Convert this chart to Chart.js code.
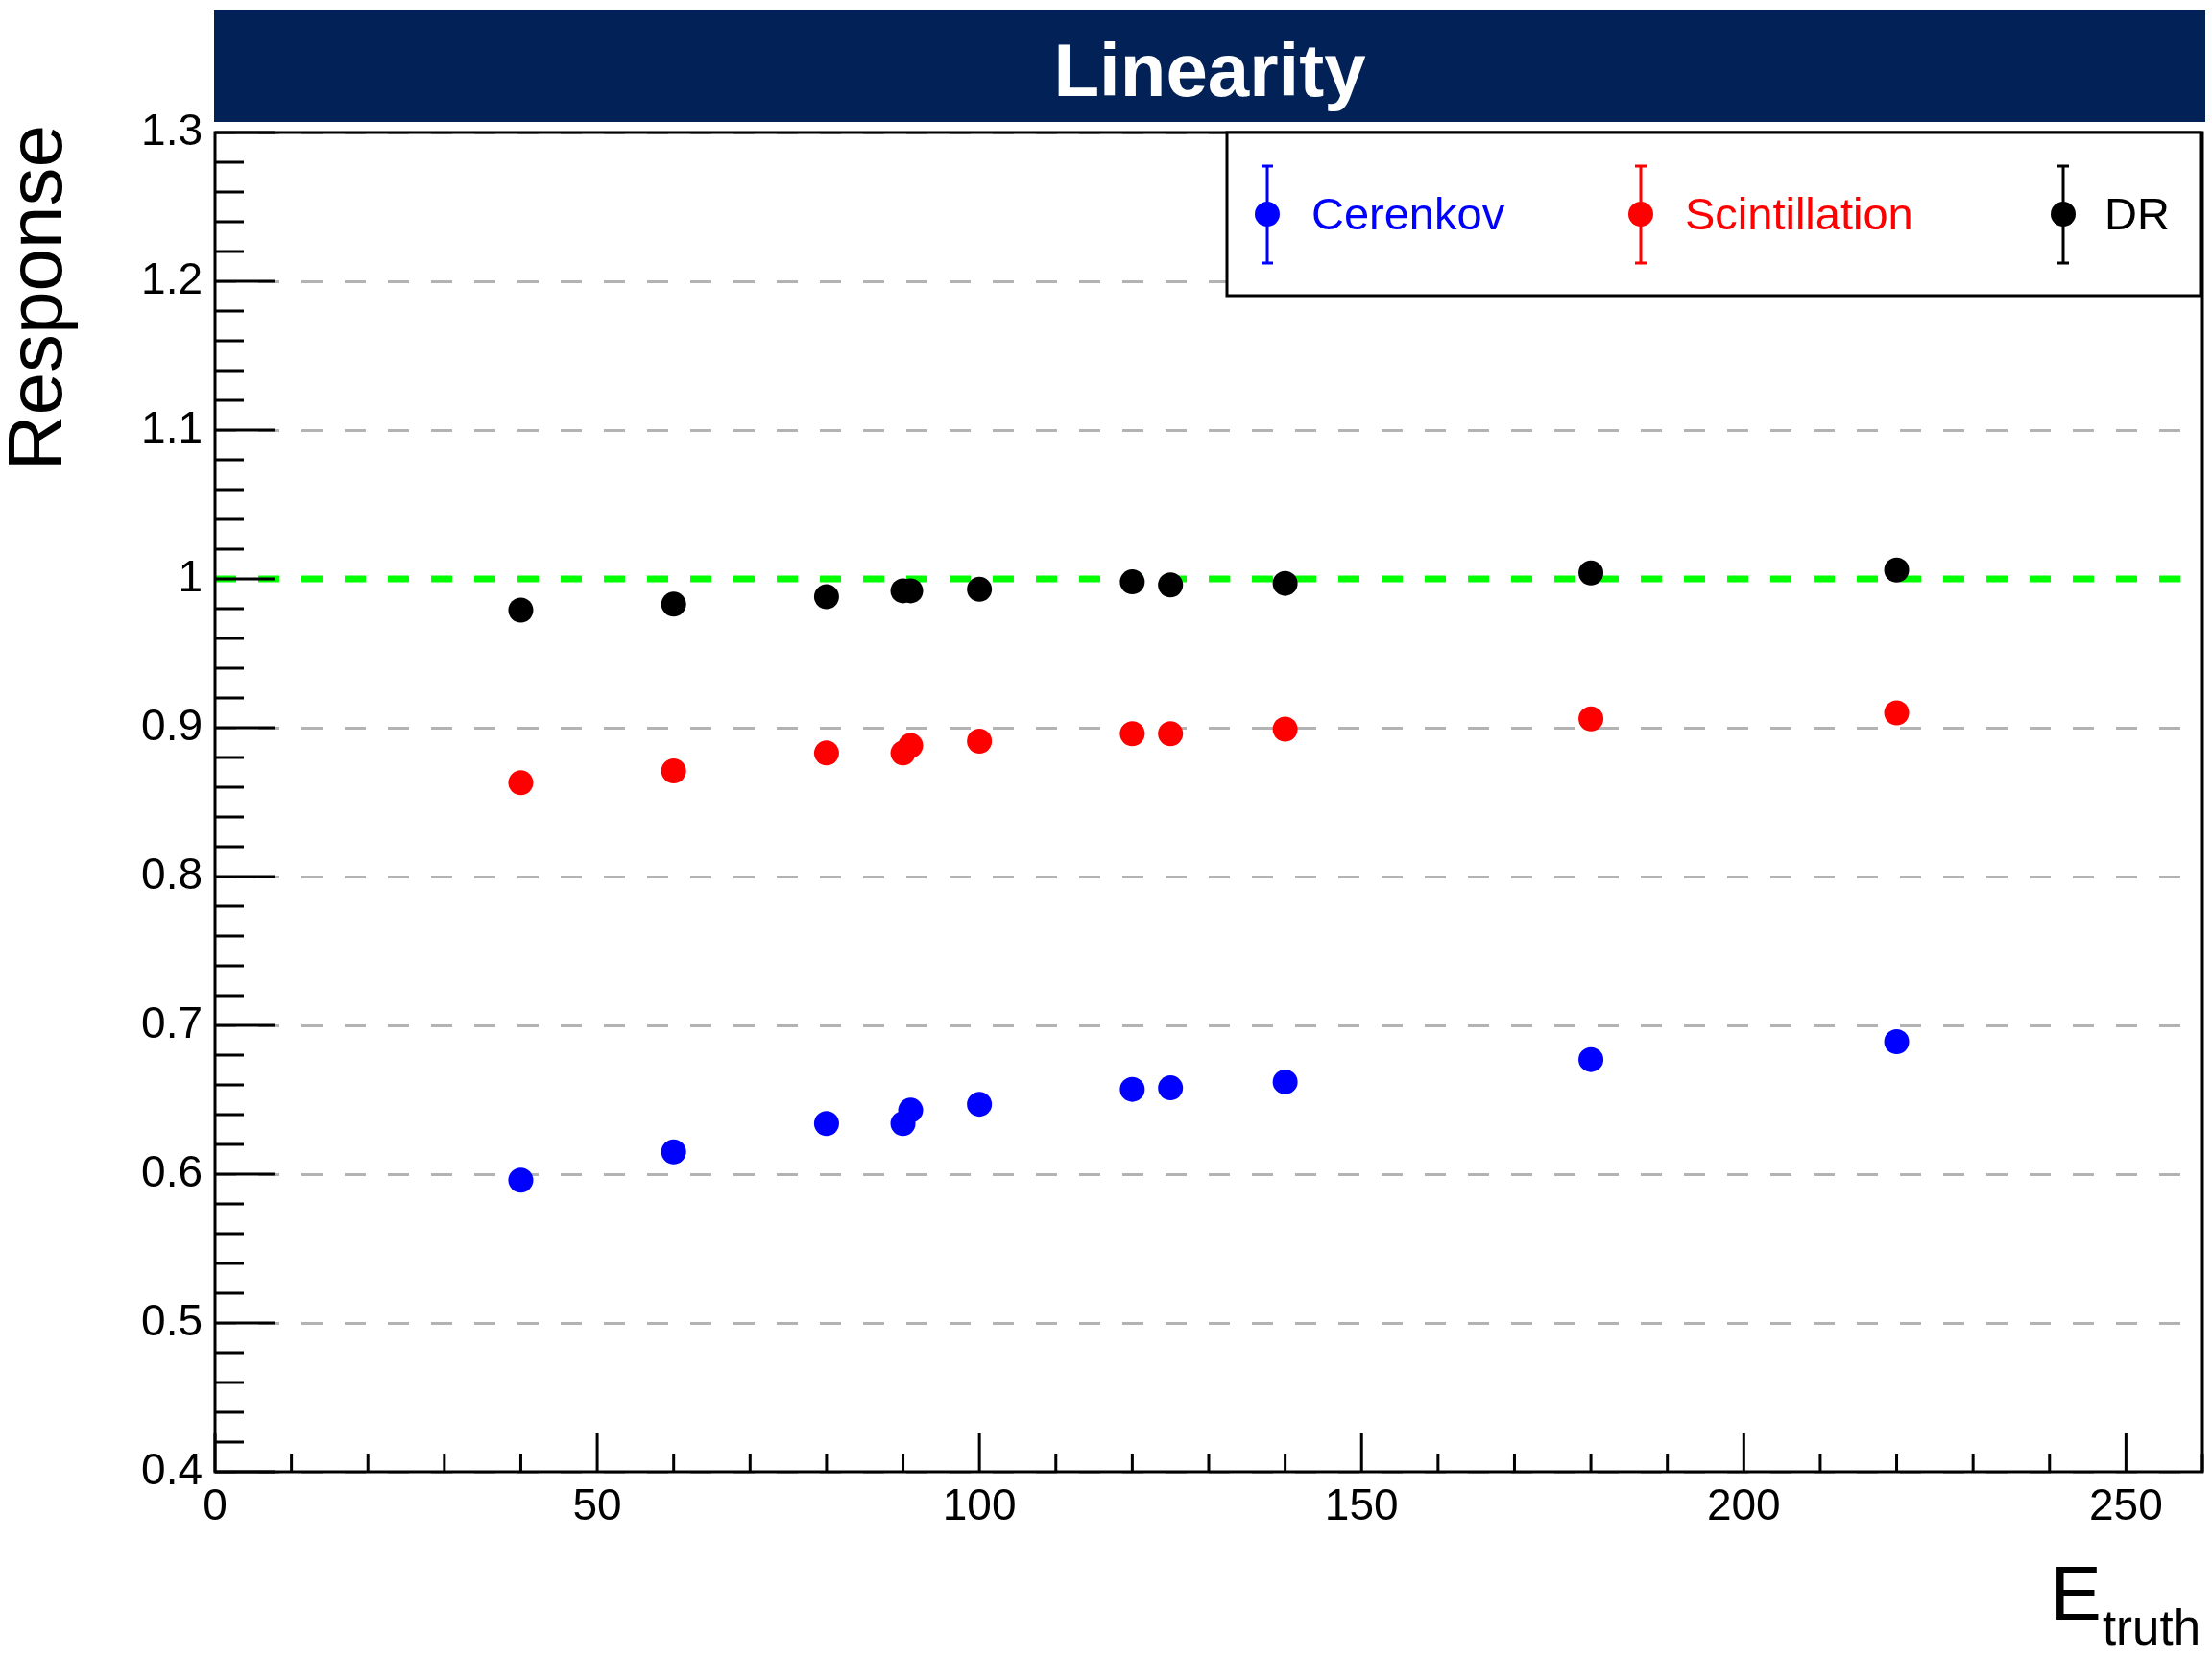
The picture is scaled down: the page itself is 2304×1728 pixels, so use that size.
<!DOCTYPE html>
<html>
<head>
<meta charset="utf-8">
<title>Linearity</title>
<script src="https://cdn.jsdelivr.net/npm/chart.js@4.4.1/dist/chart.umd.min.js"></script>
<style>
  html, body { margin: 0; padding: 0; background: #ffffff; }
  #wrap { width: 2304px; height: 1728px; }
</style>
</head>
<body>
<div id="wrap"><canvas id="linearity" width="2304" height="1728"></canvas></div>
<script>
// Beam energies (GeV) and measured response for each readout
const energies      = [40, 60, 80, 90, 91, 100, 120, 125, 140, 180, 220];
const cerenkov      = [0.596, 0.615, 0.634, 0.634, 0.643, 0.647, 0.657, 0.658, 0.662, 0.677, 0.689];
const scintillation = [0.863, 0.871, 0.883, 0.883, 0.888, 0.891, 0.896, 0.896, 0.899, 0.906, 0.910];
const dualReadout   = [0.979, 0.983, 0.988, 0.992, 0.992, 0.993, 0.998, 0.996, 0.997, 1.004, 1.006];

const seriesNames  = ['Cerenkov', 'Scintillation', 'DR'];
const seriesColors = ['#0000ff', '#ff0000', '#000000'];

const xTickLabels = ['0', '50', '100', '150', '200', '250'];
const yTickLabels = ['0.4', '0.5', '0.6', '0.7', '0.8', '0.9', '1', '1.1', '1.2', '1.3'];
const referenceResponse = 1;

const FONT = "'Liberation Sans', Arial, Helvetica, sans-serif";

function points(values) {
  return energies.map((e, i) => ({ x: e, y: values[i] }));
}

// Title banner across the top of the pad
const titleBanner = {
  id: 'titleBanner',
  beforeDraw(chart) {
    const ctx = chart.ctx;
    ctx.save();
    ctx.fillStyle = '#012157';
    ctx.fillRect(223, 10, 2074, 117);
    ctx.fillStyle = '#ffffff';
    ctx.font = 'bold 78px ' + FONT;
    ctx.textAlign = 'center';
    ctx.textBaseline = 'alphabetic';
    ctx.fillText('Linearity', 1260, 100);
    ctx.restore();
  }
};

// Dashed unit-response reference line
const referenceLine = {
  id: 'referenceLine',
  beforeDatasetsDraw(chart) {
    const { ctx, chartArea, scales } = chart;
    const y = scales.y.getPixelForValue(referenceResponse);
    ctx.save();
    ctx.strokeStyle = '#00ff00';
    ctx.lineWidth = 7;
    ctx.setLineDash([22, 23]);
    ctx.beginPath();
    ctx.moveTo(chartArea.left, y);
    ctx.lineTo(chartArea.right, y);
    ctx.stroke();
    ctx.restore();
  }
};

// Frame, inward major/minor ticks and axis titles
const frameAndTicks = {
  id: 'frameAndTicks',
  afterDraw(chart) {
    const { ctx, chartArea: a, scales } = chart;
    ctx.save();
    ctx.strokeStyle = '#000000';
    ctx.lineWidth = 3;
    ctx.setLineDash([]);

    // x ticks every 10, major every 50
    ctx.beginPath();
    for (let v = 0; v <= scales.x.max + 1e-9; v += 10) {
      const px = scales.x.getPixelForValue(v);
      const len = (v % 50 === 0) ? 40 : 19;
      ctx.moveTo(px, a.bottom);
      ctx.lineTo(px, a.bottom - len);
    }
    // y ticks every 0.02, major every 0.1
    for (let k = 0; k <= 45; k++) {
      const v = scales.y.min + k * 0.02;
      const py = scales.y.getPixelForValue(v);
      const len = (k % 5 === 0) ? 62 : 30;
      ctx.moveTo(a.left, py);
      ctx.lineTo(a.left + len, py);
    }
    ctx.stroke();

    ctx.strokeRect(a.left, a.top, a.right - a.left, a.bottom - a.top);

    // y-axis title
    ctx.fillStyle = '#000000';
    ctx.font = '80px ' + FONT;
    ctx.save();
    ctx.translate(64, 130);
    ctx.rotate(-Math.PI / 2);
    ctx.textAlign = 'right';
    ctx.textBaseline = 'alphabetic';
    ctx.fillText('Response', 0, 0);
    ctx.restore();

    // x-axis title E_truth
    ctx.textAlign = 'left';
    ctx.textBaseline = 'alphabetic';
    ctx.font = '80px ' + FONT;
    const wE = ctx.measureText('E').width;
    ctx.font = '51px ' + FONT;
    const wSub = ctx.measureText('truth').width;
    const x0 = 2291 - wE - wSub;
    ctx.font = '80px ' + FONT;
    ctx.fillText('E', x0, 1687);
    ctx.font = '51px ' + FONT;
    ctx.fillText('truth', x0 + wE + 1, 1713);
    ctx.restore();
  }
};

// Legend box with marker and error-bar glyphs
const legendBox = {
  id: 'legendBox',
  afterDraw(chart) {
    const ctx = chart.ctx;
    const box = { left: 1278, top: 138, right: 2292, bottom: 308 };
    const markerX = [1320, 1709, 2149];
    const textX = [1366, 1755, 2192];
    const cy = 223;
    ctx.save();
    ctx.fillStyle = '#ffffff';
    ctx.fillRect(box.left, box.top, box.right - box.left, box.bottom - box.top);
    ctx.strokeStyle = '#000000';
    ctx.lineWidth = 3;
    ctx.strokeRect(box.left, box.top, box.right - box.left, box.bottom - box.top);

    chart.data.datasets.forEach((ds, i) => {
      const mx = markerX[i];
      ctx.strokeStyle = ds.backgroundColor;
      ctx.lineWidth = 3;
      ctx.beginPath();
      ctx.moveTo(mx, 172); ctx.lineTo(mx, 275);
      ctx.moveTo(mx - 6, 173); ctx.lineTo(mx + 6, 173);
      ctx.moveTo(mx - 6, 274); ctx.lineTo(mx + 6, 274);
      ctx.stroke();
      ctx.fillStyle = ds.backgroundColor;
      ctx.beginPath();
      ctx.arc(mx, cy, 13, 0, Math.PI * 2);
      ctx.fill();
      ctx.font = '47px ' + FONT;
      ctx.textAlign = 'left';
      ctx.textBaseline = 'alphabetic';
      ctx.fillText(ds.label, textX[i], 239);
    });
    ctx.restore();
  }
};

const seriesValues = [cerenkov, scintillation, dualReadout];

new Chart(document.getElementById('linearity'), {
  type: 'scatter',
  data: {
    datasets: seriesValues.map((vals, i) => ({
      label: seriesNames[i],
      data: points(vals),
      backgroundColor: seriesColors[i],
      borderColor: seriesColors[i],
      borderWidth: 0,
      pointRadius: 13,
      pointHoverRadius: 13,
      pointStyle: 'circle',
      showLine: false
    }))
  },
  options: {
    responsive: false,
    devicePixelRatio: 1,
    animation: false,
    events: [],
    layout: { autoPadding: false, padding: { top: 138, right: 10, left: 0, bottom: 0 } },
    plugins: {
      legend: { display: false },
      title: { display: false },
      tooltip: { enabled: false }
    },
    scales: {
      x: {
        type: 'linear',
        min: 0,
        max: 260,
        border: { display: false },
        grid: { display: false, drawTicks: false },
        ticks: {
          stepSize: 50,
          includeBounds: false,
          autoSkip: false,
          maxRotation: 0,
          padding: 10,
          color: '#000000',
          font: { family: FONT, size: 46 },
          callback: (v) => {
            const s = xTickLabels.find(l => Math.abs(parseFloat(l) - v) < 1e-6);
            return s === undefined ? null : s;
          }
        },
        afterFit: (s) => { s.height = 195; s.paddingLeft = 0; s.paddingRight = 0; }
      },
      y: {
        type: 'linear',
        min: 0.4,
        max: 1.3,
        border: { display: false, dash: [22, 23] },
        grid: {
          display: true,
          drawTicks: false,
          color: '#b3b3b3',
          lineWidth: 3
        },
        ticks: {
          stepSize: 0.1,
          autoSkip: false,
          padding: 13,
          color: '#000000',
          font: { family: FONT, size: 46 },
          callback: (v) => {
            const s = yTickLabels.find(l => Math.abs(parseFloat(l) - v) < 1e-6);
            return s === undefined ? null : s;
          }
        },
        afterFit: (s) => { s.width = 224; s.paddingTop = 0; s.paddingBottom = 0; }
      }
    }
  },
  plugins: [titleBanner, referenceLine, frameAndTicks, legendBox]
});
</script>
</body>
</html>
